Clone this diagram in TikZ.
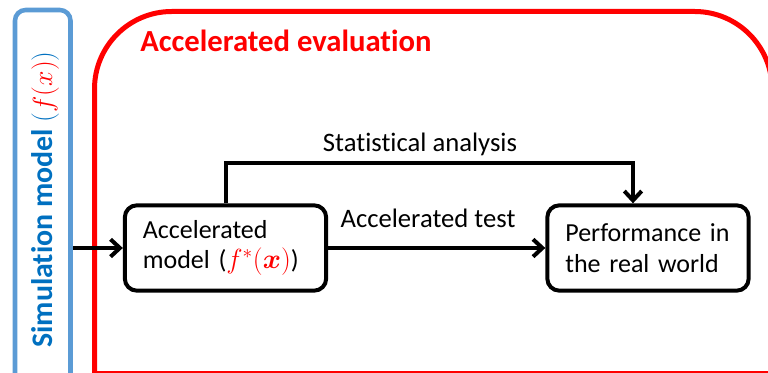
\documentclass[tikz,border=0pt]{standalone}
\usepackage{fontspec}
\usepackage{amsmath}
\usepackage{bm}
\setmainfont{Carlito}[Ligatures={NoCommon}]
\usetikzlibrary{arrows.meta}
\definecolor{evalred}{HTML}{FF0000}
\definecolor{simblue}{HTML}{0070C0}
\definecolor{simframe}{HTML}{5B9BD5}
\tikzset{
  stage/.style={draw=black, line width=3pt, rounded corners=9pt, fill=white,
    minimum height=64pt, inner xsep=13.5pt, text width=124pt, align=left,
    font=\fontsize{19.5}{23}\selectfont},
  flow/.style={line width=3pt, -{Straight Barb[length=7pt,width=13pt,line width=3pt]}},
  plainlabel/.style={font=\fontsize{20}{24}\selectfont, inner sep=0pt, anchor=base},
  heading/.style={inner sep=0pt, font=\fontsize{23}{27}\selectfont\bfseries},
}
\begin{document}
\begin{tikzpicture}[x=0.75pt,y=-0.75pt]
  \useasboundingbox (0,0) rectangle (768,373);
  \clip (0,0) rectangle (768,373);
  % simulation model frame (runs past the lower edge)
  \draw[simframe, line width=3.4pt, rounded corners=8pt]
    (15,400) -- (15,10) -- (70.5,10) -- (70.5,400);
  \node[heading, font=\fontsize{22.4}{27}\selectfont\bfseries,
        rotate=90, anchor=base west, text=simblue] (sim) at (52,348)
    {Simulation model $\color{simblue}(\color{evalred}f(x)\color{simblue})$};
  % accelerated evaluation frame
  \draw[evalred, line width=3.75pt, rounded corners=58pt]
    (94.5,400) -- (94.5,11.5) -- (772,11.5) -- (772,400);
  \draw[evalred, line width=3.75pt] (94.5,374) -- (772,374);
  \node[heading, anchor=base west, text=evalred] (title) at (140,52)
    {Accelerated evaluation};
  % stages
  \node[stage] (acc) at (225.5,248)
    {Accelerated\\model ({\color{evalred}$f^{*}(\bm{x})$})};
  \node[stage] (perf) at (648,248)
    {Performance in\\the real world};
  % connectors
  \coordinate (feed) at (73,248);
  \coordinate (tap) at (633,163);
  \draw[flow] (feed) -- (acc.west);
  \draw[flow] (acc.east) -- (perf.west);
  \draw[flow] (acc.north) |- (tap) -- (tap |- perf.north);
  \node[plainlabel] (testlbl) at (428,228) {Accelerated test};
  \node[plainlabel] (statlbl) at (420,152) {Statistical analysis};
\end{tikzpicture}
\end{document}
